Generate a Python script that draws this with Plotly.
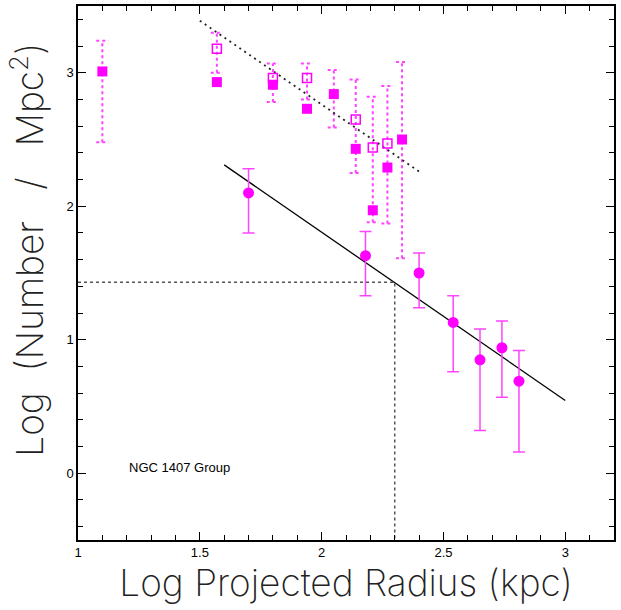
import plotly.graph_objects as go

# Filled squares (dotted error bars where shown)
fsq_x = [1.10, 1.57, 1.80, 1.94, 2.05, 2.14, 2.21, 2.27, 2.33]
fsq_y = [3.01, 2.93, 2.91, 2.73, 2.84, 2.43, 1.97, 2.29, 2.50]
fsq_hi = [3.24, None, None, None, 3.02, None, None, None, 3.08]
fsq_lo = [2.48, None, None, None, 2.59, None, None, None, 1.61]

# Open squares with dotted error bars
osq_x = [1.57, 1.80, 1.94, 2.14, 2.21, 2.27]
osq_y = [3.18, 2.96, 2.96, 2.65, 2.44, 2.47]
osq_hi = [3.30, 3.07, 3.07, 2.95, 2.82, 2.90]
osq_lo = [3.00, 2.78, 2.80, 2.25, 1.88, 1.87]

# Filled circles with solid error bars
cir_x = [1.70, 2.18, 2.40, 2.54, 2.65, 2.74, 2.81]
cir_y = [2.10, 1.63, 1.50, 1.13, 0.85, 0.94, 0.69]
cir_hi = [2.28, 1.81, 1.65, 1.33, 1.08, 1.14, 0.92]
cir_lo = [1.80, 1.33, 1.24, 0.76, 0.32, 0.57, 0.16]

# Fit lines
fit_solid_x = [1.60, 3.00]
fit_solid_y = [2.31, 0.545]
fit_dot_x = [1.50, 2.40]
fit_dot_y = [3.39, 2.26]

# Reference (dotted) marker lines
ref_x = 2.30
ref_y = 1.43

x_range = [1.0, 3.2]
y_range = [-0.5, 3.5]
x_ticks = [1, 1.5, 2, 2.5, 3]
x_ticklabels = ["1", "1.5", "2", "2.5", "3"]
y_ticks = [0, 1, 2, 3]
y_ticklabels = ["0", "1", "2", "3"]

MAG = "#ff00ff"
ERRC = "#ff44ff"
CAP = 0.025

def dotted_err(xs, his, los):
    ex, ey = [], []
    for x, h, l in zip(xs, his, los):
        if h is None or l is None:
            continue
        ex += [x, x, None, x - CAP, x + CAP, None, x - CAP, x + CAP, None]
        ey += [l, h, None, h, h, None, l, l, None]
    return ex, ey

fig = go.Figure()

ex1, ey1 = dotted_err(osq_x, osq_hi, osq_lo)
ex2, ey2 = dotted_err(fsq_x, fsq_hi, fsq_lo)
fig.add_trace(go.Scatter(x=ex1 + ex2, y=ey1 + ey2, mode="lines",
                         line=dict(color=ERRC, width=2, dash="dot"),
                         hoverinfo="skip", showlegend=False))

# fit lines
fig.add_trace(go.Scatter(x=fit_solid_x, y=fit_solid_y, mode="lines",
                         line=dict(color="black", width=1.3), showlegend=False))
fig.add_trace(go.Scatter(x=fit_dot_x, y=fit_dot_y, mode="lines",
                         line=dict(color="#222", width=1.8, dash="2px,4px"), showlegend=False))
# reference lines
fig.add_trace(go.Scatter(x=[x_range[0], ref_x, ref_x], y=[ref_y, ref_y, y_range[0]],
                         mode="lines", line=dict(color="#555", width=1.5, dash="dot"),
                         showlegend=False))

fig.add_trace(go.Scatter(x=osq_x, y=osq_y, mode="markers",
                         marker=dict(symbol="square-open", size=9, color=MAG,
                                     line=dict(width=1.5, color=MAG)),
                         showlegend=False))
fig.add_trace(go.Scatter(x=fsq_x, y=fsq_y, mode="markers",
                         marker=dict(symbol="square", size=10, color=MAG),
                         showlegend=False))
fig.add_trace(go.Scatter(
    x=cir_x, y=cir_y, mode="markers",
    marker=dict(symbol="circle", size=11, color=MAG),
    error_y=dict(type="data", symmetric=False,
                 array=[h - y for h, y in zip(cir_hi, cir_y)],
                 arrayminus=[y - l for l, y in zip(cir_lo, cir_y)],
                 color=ERRC, thickness=1.5, width=6),
    showlegend=False))

fig.add_annotation(x=1.2, y=0.045, text="NGC 1407 Group", showarrow=False,
                   xanchor="left", yanchor="middle",
                   font=dict(family="Liberation Sans, Arial", size=13, color="black"))

axis_common = dict(showline=True, linecolor="black", linewidth=1.5, mirror="ticks",
                   ticks="inside", ticklen=8, tickwidth=1, tickcolor="black",
                   showgrid=False, zeroline=False,
                   tickfont=dict(family="Liberation Sans, Arial", size=13, color="black"))

title_font = dict(family="Inter", size=37, color="#222", weight=200)

# y-axis title as a rotated annotation for precise placement
fig.add_annotation(xref="paper", yref="paper", x=-0.094, y=0.543,
                   text="Log&nbsp;&nbsp;(Number&nbsp;&nbsp;&nbsp;/&nbsp;&nbsp;&nbsp;Mpc<sup>2</sup>)",
                   textangle=-90, showarrow=False, xanchor="center", yanchor="middle",
                   font=title_font)

fig.update_layout(
    width=621, height=610,
    margin=dict(l=78, r=7, t=4, b=70),
    paper_bgcolor="white", plot_bgcolor="white",
    xaxis=dict(range=x_range, tickvals=x_ticks, ticktext=x_ticklabels,
               minor=dict(dtick=0.1, tick0=1, ticks="inside", ticklen=5, tickcolor="black"),
               title=dict(text="Log Projected Radius (kpc)", standoff=2, font=title_font),
               **axis_common),
    yaxis=dict(range=y_range, tickvals=y_ticks, ticktext=y_ticklabels,
               minor=dict(dtick=0.2, tick0=0, ticks="inside", ticklen=5, tickcolor="black"),
               **axis_common),
)

fig.write_html("out.html")
